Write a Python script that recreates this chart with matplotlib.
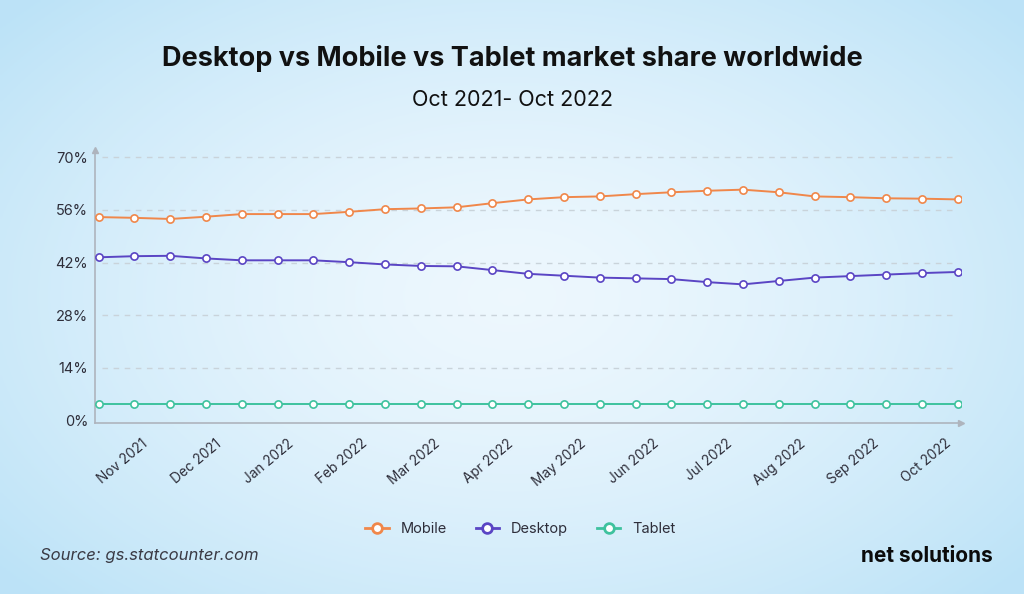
import matplotlib.pyplot as plt
import numpy as np
from matplotlib.lines import Line2D

# data (% share, roughly half-monthly points)
mobile = [54.1, 53.9, 53.6, 54.2, 54.9, 54.9, 54.9, 55.5, 56.2, 56.4, 56.7, 57.8, 58.8,
          59.4, 59.6, 60.2, 60.7, 61.1, 61.4, 60.7, 59.6, 59.4, 59.1, 59.0, 58.8]
desktop = [43.4, 43.7, 43.8, 43.1, 42.6, 42.6, 42.6, 42.1, 41.5, 41.1, 41.0, 40.0, 39.0,
           38.5, 38.0, 37.8, 37.6, 36.8, 36.2, 37.1, 38.0, 38.4, 38.8, 39.2, 39.5]
tablet = [4.4] * 25
months = ['Nov 2021', 'Dec 2021', 'Jan 2022', 'Feb 2022', 'Mar 2022', 'Apr 2022',
          'May 2022', 'Jun 2022', 'Jul 2022', 'Aug 2022', 'Sep 2022', 'Oct 2022']
yticks = [0, 14, 28, 42, 56, 70]

c_mob = '#f0874a'
c_desk = '#5a45c4'
c_tab = '#3ec29e'
txt = '#2e2e3a'

plt.rcParams['font.family'] = ['Inter', 'DejaVu Sans']

fig = plt.figure(figsize=(10.24, 5.94), dpi=100)

# soft radial blue background
bg = fig.add_axes([0, 0, 1, 1], zorder=-10)
gx, gy = np.meshgrid(np.linspace(-1, 1, 300), np.linspace(-1, 1, 200))
r = np.clip(np.sqrt((gx / 1.0) ** 2 + (gy / 1.1) ** 2), 0, 1.3) / 1.3
c0 = np.array([0.93, 0.97, 0.995])
c1 = np.array([0.74, 0.89, 0.97])
img = c0 + (c1 - c0) * (r[..., None] ** 1.5)
bg.imshow(img, aspect='auto', extent=[0, 1, 0, 1])
bg.axis('off')

ax = fig.add_axes([0.0928, 0.2884, 0.846, 0.4594])
ax.patch.set_alpha(0)
x = np.arange(len(mobile))
for vals, col in [(tablet, c_tab), (desktop, c_desk), (mobile, c_mob)]:
    ax.plot(x, vals, color=col, lw=1.4, marker='o', ms=5.2, mfc='white',
            mec=col, mew=1.2, zorder=3)

ax.set_xlim(-0.1, 24.1)
ax.set_ylim(-0.6, 72)
ax.set_yticks(yticks)
ax.set_yticklabels([f'{v}%' for v in yticks], fontsize=10.5, color=txt)
ax.set_xticks(np.linspace(1.45, 23.9, 12))
ax.set_xticklabels(months, rotation=40, ha='right', fontsize=9.8, color=txt)
ax.tick_params(length=0, pad=5)
ax.tick_params(axis='x', pad=10)

for v in yticks[1:]:
    ax.plot([0.1, 23.9], [v, v], color='#c9d3da', lw=1, ls=(0, (4, 4)), zorder=1)

for s in ['top', 'right']:
    ax.spines[s].set_visible(False)
for s in ['left', 'bottom']:
    ax.spines[s].set_color('#aeb4bd')
    ax.spines[s].set_linewidth(1.2)
ax.plot(1, 0, '>', color='#aeb4bd', ms=4, transform=ax.transAxes, clip_on=False)
ax.plot(0, 1, '^', color='#aeb4bd', ms=4, transform=ax.transAxes, clip_on=False)

fig.text(0.5, 0.902, 'Desktop vs Mobile vs Tablet market share worldwide',
         ha='center', va='center', fontsize=19.5, fontweight='bold', color='#111111')
fig.text(0.5, 0.831, 'Oct 2021- Oct 2022', ha='center', va='center',
         fontsize=15.5, color='#111111')

handles = [Line2D([], [], color=c, lw=2, marker='o', ms=7, mfc='white', mec=c, mew=2)
           for c in (c_mob, c_desk, c_tab)]
fig.legend(handles, ['Mobile', 'Desktop', 'Tablet'], loc='center',
           bbox_to_anchor=(0.508, 0.109), ncol=3, frameon=False, fontsize=10.5,
           handlelength=1.6, columnspacing=2.0, handletextpad=0.8,
           labelcolor=txt)

fig.text(0.039, 0.064, 'Source: gs.statcounter.com', ha='left', va='center',
         fontsize=12, style='italic', color='#3a3a44')
fig.text(0.969, 0.064, 'net solutions', ha='right', va='center',
         fontsize=15, fontweight='bold', color='#0b0b0b')

fig.savefig('out.png', dpi=100)
